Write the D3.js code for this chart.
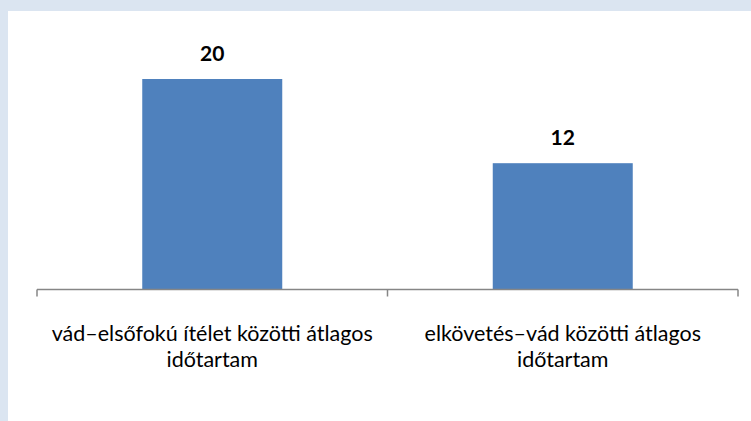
<!DOCTYPE html>
<html>
<head>
<meta charset="utf-8">
<script src="https://cdn.jsdelivr.net/npm/d3@7"></script>
<style>
  body { margin: 0; background: #dbe5f1; }
  svg { display: block; }
</style>
</head>
<body>
<svg id="chart" width="751" height="421"></svg>
<script>
// categories (each label on two lines) and values
var categorie = ['vád–elsőfokú ítélet közötti átlagos|időtartam', 'elkövetés–vád közötti átlagos|időtartam'];
var valori = [20, 12];

var svg = d3.select('#chart');

// white plot background
svg.append('rect')
    .attr('x', 8).attr('y', 11)
    .attr('width', 743).attr('height', 410)
    .attr('fill', '#fff');

var x = d3.scaleBand()
    .domain(categorie)
    .range([37, 738])
    .paddingInner(0)
    .paddingOuter(0);

var y = d3.scaleLinear()
    .domain([0, 20])
    .range([289.5, 79]);

var barW = 140;

svg.selectAll('.barra')
    .data(valori)
    .enter().append('rect')
    .attr('class', 'barra')
    .attr('x', function(d, i) { return x(categorie[i]) + x.bandwidth() / 2 - barW / 2; })
    .attr('y', function(d) { return y(d); })
    .attr('width', barW)
    .attr('height', function(d) { return y(0) - y(d); })
    .attr('fill', '#4f81bd');

// axis line with ticks at category boundaries
var asse = svg.append('g').attr('stroke', '#868686').attr('stroke-width', 1.5).attr('fill', 'none');
asse.append('line')
    .attr('x1', x.range()[0]).attr('x2', x.range()[1])
    .attr('y1', y(0)).attr('y2', y(0));
var confini = categorie.map(function(c) { return x(c); }).concat([x.range()[1]]);
asse.selectAll('.tick')
    .data(confini)
    .enter().append('line')
    .attr('x1', function(d) { return d; }).attr('x2', function(d) { return d; })
    .attr('y1', y(0)).attr('y2', y(0) + 7);

// value labels
svg.selectAll('.valore')
    .data(valori)
    .enter().append('text')
    .attr('x', function(d, i) { return x(categorie[i]) + x.bandwidth() / 2; })
    .attr('y', function(d) { return y(d) - 18; })
    .attr('text-anchor', 'middle')
    .style('font-family', 'Lato, sans-serif')
    .style('font-weight', 'bold')
    .style('font-size', '21px')
    .text(function(d) { return d; });

// category labels
categorie.forEach(function(c) {
    var t = svg.append('text')
        .attr('text-anchor', 'middle')
        .style('font-family', 'Lato, sans-serif')
        .style('font-size', '21.5px')
        .attr('fill', '#000');
    c.split('|').forEach(function(riga, j) {
        t.append('tspan')
            .attr('x', x(c) + x.bandwidth() / 2)
            .attr('y', 341 + j * 26)
            .text(riga);
    });
});
</script>
</body>
</html>
